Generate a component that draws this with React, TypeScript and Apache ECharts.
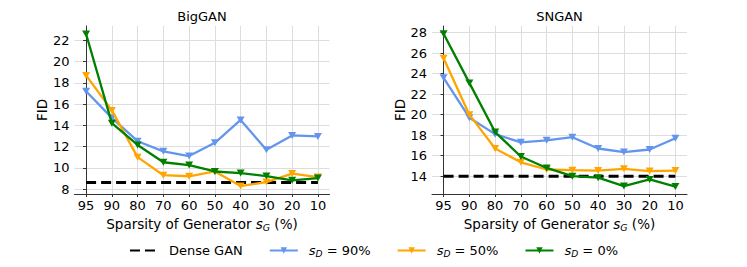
import React, { useEffect, useRef } from "react";
import * as echarts from "echarts";

const xLabels = ["95", "90", "80", "70", "60", "50", "40", "30", "20", "10"];
const seriesNames = ["Dense GAN", "s_D = 90%", "s_D = 50%", "s_D = 0%"];

const bigDense = [8.62, 8.62, 8.62, 8.62, 8.62, 8.62, 8.62, 8.62, 8.62, 8.62];
const big90 = [17.2, 14.7, 12.5, 11.55, 11.1, 12.35, 14.5, 11.7, 13.05, 12.95];
const big50 = [18.7, 15.4, 11.0, 9.3, 9.2, 9.65, 8.28, 8.65, 9.45, 9.12];
const big0 = [22.6, 14.2, 12.15, 10.52, 10.25, 9.65, 9.5, 9.22, 8.82, 9.03];

const snDense = [14.0, 14.0, 14.0, 14.0, 14.0, 14.0, 14.0, 14.0, 14.0, 14.0];
const sn90 = [23.6, 19.7, 18.1, 17.3, 17.5, 17.8, 16.7, 16.35, 16.6, 17.7];
const sn50 = [25.5, 20.0, 16.7, 15.35, 14.65, 14.58, 14.55, 14.72, 14.5, 14.55];
const sn0 = [27.9, 23.1, 18.3, 15.92, 14.8, 14.0, 13.85, 13.03, 13.68, 12.98];

const bigTicks = [8, 10, 12, 14, 16, 18, 20, 22];
const snTicks = [14, 16, 18, 20, 22, 24, 26, 28];

const colors = ["#000000", "#6495ED", "#FFA500", "#008000"];
const FONT = "DejaVu Sans";

export default function App() {
  const ref = useRef<HTMLDivElement>(null);
  useEffect(() => {
    if (!ref.current) return;
    const chart = echarts.init(ref.current, undefined, { renderer: "svg" });
    const idx = xLabels.map((_, i) => i);
    const toPts = (arr: number[]) => arr.map((v, i) => [i, v]);

    const panels = [
      { title: "BigGAN", left: 74.5, ymin: 7.53, ymax: 23.35, ticks: bigTicks, data: [bigDense, big90, big50, big0] },
      { title: "SNGAN", left: 432, ymin: 12.26, ymax: 28.65, ticks: snTicks, data: [snDense, sn90, sn50, sn0] },
    ];
    const width = 255;
    const top = 26;
    const height = 168;

    const mkRich = (fs: number) => ({
      n: { fontFamily: FONT, fontSize: fs, color: "#000" },
      it: { fontFamily: FONT, fontSize: fs, fontStyle: "italic", color: "#000" },
      sub: { fontFamily: FONT, fontSize: fs * 0.7, fontStyle: "italic", color: "#000", padding: [fs * 0.5, 0, 0, 0] },
    });

    const series: any[] = [];
    panels.forEach((p, pi) => {
      series.push({
        type: "line",
        name: "__grid" + pi,
        xAxisIndex: pi,
        yAxisIndex: pi,
        data: [],
        silent: true,
        z: 0,
        markLine: {
          silent: true,
          z: 0,
          symbol: ["none", "none"],
          label: { show: false },
          lineStyle: { color: "#dddddd", width: 1, type: "solid" },
          emphasis: { disabled: true },
          data: [
            ...idx.map((i) => ({ xAxis: i })),
            ...p.ticks.map((t) => ({ yAxis: t })),
          ],
        },
      });
      p.data.forEach((arr, si) => {
        const dense = si === 0;
        series.push({
          type: "line",
          name: seriesNames[si],
          xAxisIndex: pi,
          yAxisIndex: pi,
          data: toPts(arr),
          color: colors[si],
          z: dense ? 2 : 3 + si,
          symbol: dense ? "none" : "triangle",
          symbolRotate: 180,
          symbolSize: [8, 7],
          showSymbol: !dense,
          lineStyle: dense
            ? { color: colors[si], width: 3, type: [10, 5] }
            : { color: colors[si], width: 2.3 },
          itemStyle: { color: colors[si] },
        });
      });
    });

    chart.setOption({
      animation: false,
      title: panels.map((p) => ({
        text: p.title,
        left: p.left + width / 2,
        textAlign: "center",
        top: 10,
        padding: 0,
        textStyle: { fontFamily: FONT, fontSize: 13, fontWeight: "normal", color: "#000" },
      })),
      grid: panels.map((p) => ({ left: p.left, top, width, height })),
      xAxis: panels.map((p, pi) => ({
        type: "value",
        gridIndex: pi,
        min: -0.45,
        max: 9.45,
        name: "{n|Sparsity of Generator }{it|s}{sub|G}{n| (%)}",
        nameLocation: "middle",
        nameGap: 20,
        nameTextStyle: { rich: mkRich(13.5) },
        axisLine: { show: true, lineStyle: { color: "#333", width: 1 } },
        axisTick: { show: true, customValues: idx, length: 3, lineStyle: { color: "#333" } },
        axisLabel: {
          customValues: idx,
          formatter: (v: number) => xLabels[Math.round(v)] ?? "",
          fontFamily: FONT,
          fontSize: 13,
          color: "#000",
          margin: 5,
        },
        splitLine: { show: false },
      })),
      yAxis: panels.map((p, pi) => ({
        type: "value",
        gridIndex: pi,
        min: p.ymin,
        max: p.ymax,
        name: "FID",
        nameLocation: "middle",
        nameGap: 24,
        nameTextStyle: { fontFamily: FONT, fontSize: 13.5, color: "#000" },
        axisLine: { show: true, lineStyle: { color: "#333", width: 1 } },
        axisTick: { show: true, customValues: p.ticks, length: 3, lineStyle: { color: "#333" } },
        axisLabel: {
          customValues: p.ticks,
          fontFamily: FONT,
          fontSize: 13,
          color: "#000",
          margin: 5,
        },
        splitLine: { show: false },
      })),
      legend: {
        data: [
          { name: seriesNames[0], itemStyle: { color: "transparent", borderWidth: 0, opacity: 0 } },
          seriesNames[1],
          seriesNames[2],
          seriesNames[3],
        ],
        left: "center",
        top: 239,
        itemWidth: 28,
        itemHeight: 8,
        itemGap: 26,
        formatter: (name: string) => {
          if (name.startsWith("s_D")) return "{it|s}{sub|D}{n|" + name.slice(3) + "}";
          return "{n|" + name + "}";
        },
        textStyle: { fontFamily: FONT, fontSize: 13, color: "#000", padding: [0, 0, 0, 6], rich: mkRich(13) },
      },
      series,
    });
    return () => chart.dispose();
  }, []);
  return (
    <div
      ref={ref}
      style={{ position: "absolute", left: 0, top: 0, width: 747, height: 267 }}
    />
  );
}
